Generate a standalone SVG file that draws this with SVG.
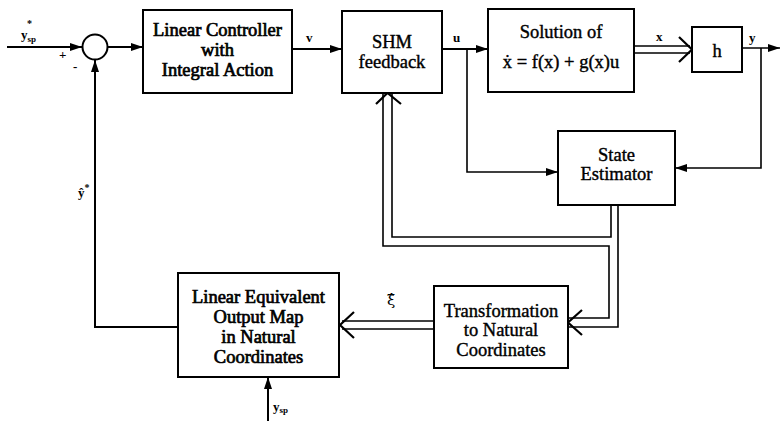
<svg xmlns="http://www.w3.org/2000/svg" width="780" height="421" viewBox="0 0 780 421">
<defs>
<marker id="ah" viewBox="0 0 12 8" refX="12" refY="4" markerWidth="12" markerHeight="8" markerUnits="userSpaceOnUse" orient="auto">
<path d="M0,0 L12,4 L0,8 Z" fill="#000"/>
</marker>
</defs>
<style>
.box{fill:#fff;stroke:#000;stroke-width:2}
.t{font-family:"Liberation Serif","DejaVu Serif","Times New Roman",serif;font-size:18.5px;text-anchor:middle;fill:#000;stroke:#000;stroke-width:0.4}
.b{stroke-width:0.7}
.l{font-family:"Liberation Serif","DejaVu Serif","Times New Roman",serif;font-size:13px;font-weight:bold;fill:#000}
.w{fill:none;stroke:#000;stroke-width:2}
.d{fill:none;stroke:#000;stroke-width:1.6}
.ch{fill:none;stroke:#000;stroke-width:2.2}
</style>
<rect width="780" height="421" fill="#fff"/>
<g id="connectors">
<line class="w" x1="7" y1="47" x2="82" y2="47" marker-end="url(#ah)"/>
<line class="w" x1="107.5" y1="47" x2="143" y2="47" marker-end="url(#ah)"/>
<line class="w" x1="292" y1="49" x2="342" y2="49" marker-end="url(#ah)"/>
<line class="w" x1="442" y1="49" x2="488" y2="49" marker-end="url(#ah)"/>
<polyline class="d" points="467,49 467,172 558,172" marker-end="url(#ah)"/>
<line class="d" x1="634" y1="46" x2="690" y2="46"/>
<line class="d" x1="634" y1="53" x2="690" y2="53"/>
<polyline class="ch" points="679,37 692,49.5 679,62"/>
<line class="d" x1="742" y1="48" x2="780" y2="48" marker-end="url(#ah)"/>
<polyline class="d" points="761,48 761,168 675,168" marker-end="url(#ah)"/>
<polyline class="d" points="611,205 611,237 392,237 392,94"/>
<polyline class="d" points="383,94 383,246 609,246 609,318 569,318"/>
<polyline class="d" points="618,205 618,327 569,327"/>
<polyline class="ch" points="376,104 387.5,93 401,104"/>
<polyline class="ch" points="582,310 568,322.5 582,335"/>
<line class="d" x1="434" y1="321" x2="342" y2="321"/>
<line class="d" x1="434" y1="329" x2="342" y2="329"/>
<polyline class="ch" points="354,312 340,325 354,338"/>
<polyline class="w" points="178,327 95,327 95,60" marker-end="url(#ah)"/>
<line class="w" x1="268" y1="421" x2="268" y2="377" marker-end="url(#ah)"/>
</g>
<g id="labels">
<text class="l" x="21" y="39">y<tspan font-size="9" dy="3">sp</tspan><tspan font-size="10" dx="-9" dy="-15">*</tspan></text>
<text class="l" x="59" y="59" font-size="13">+</text>
<text class="l" x="73" y="71" font-size="13">-</text>
<text class="l" x="306" y="42">v</text>
<text class="l" x="453" y="42">u</text>
<text class="l" x="656" y="41">x</text>
<text class="l" x="749" y="42">y</text>
<text class="l" x="78" y="197" font-size="15">ŷ<tspan font-size="10" dy="-6">*</tspan></text>
<text x="387" y="305" font-family="'DejaVu Serif','DejaVu Sans',serif" font-size="15">ξ̂</text>
<text class="l" x="273" y="411">y<tspan font-size="9" dy="2">sp</tspan></text>
</g>
<g id="sum">
<circle cx="95" cy="47" r="12.5" fill="#fff" stroke="#000" stroke-width="2"/>
</g>
<g id="controller">
<rect class="box" x="143" y="10" width="149" height="83"/>
<text class="t b" x="217.5" y="36">Linear Controller</text>
<text class="t b" x="217.5" y="56">with</text>
<text class="t b" x="217.5" y="76">Integral Action</text>
</g>
<g id="shm">
<rect class="box" x="342" y="11" width="100" height="82"/>
<text class="t" x="392" y="48">SHM</text>
<text class="t" x="392" y="68">feedback</text>
</g>
<g id="solution">
<rect class="box" x="488" y="9" width="146" height="83"/>
<text class="t" x="561" y="38">Solution of</text>
<text class="t" x="561" y="68" font-size="16.5">ẋ = f(x) + g(x)u</text>
</g>
<g id="h">
<rect class="box" x="692" y="27" width="50" height="45"/>
<text class="t" x="717" y="57" font-size="19">h</text>
</g>
<g id="estimator">
<rect class="box" x="558" y="131" width="117" height="74"/>
<text class="t" x="616.5" y="161">State</text>
<text class="t" x="616.5" y="180">Estimator</text>
</g>
<g id="transformation">
<rect class="box" x="434" y="286" width="134" height="82"/>
<text class="t" x="501" y="317">Transformation</text>
<text class="t" x="501" y="336">to Natural</text>
<text class="t" x="501" y="356">Coordinates</text>
</g>
<g id="outputmap">
<rect class="box" x="178" y="273" width="161" height="104"/>
<text class="t b" x="258.5" y="303" font-size="17">Linear Equivalent</text>
<text class="t b" x="258.5" y="323" font-size="17">Output Map</text>
<text class="t b" x="258.5" y="343" font-size="17">in Natural</text>
<text class="t b" x="258.5" y="363" font-size="17">Coordinates</text>
</g>
</svg>
